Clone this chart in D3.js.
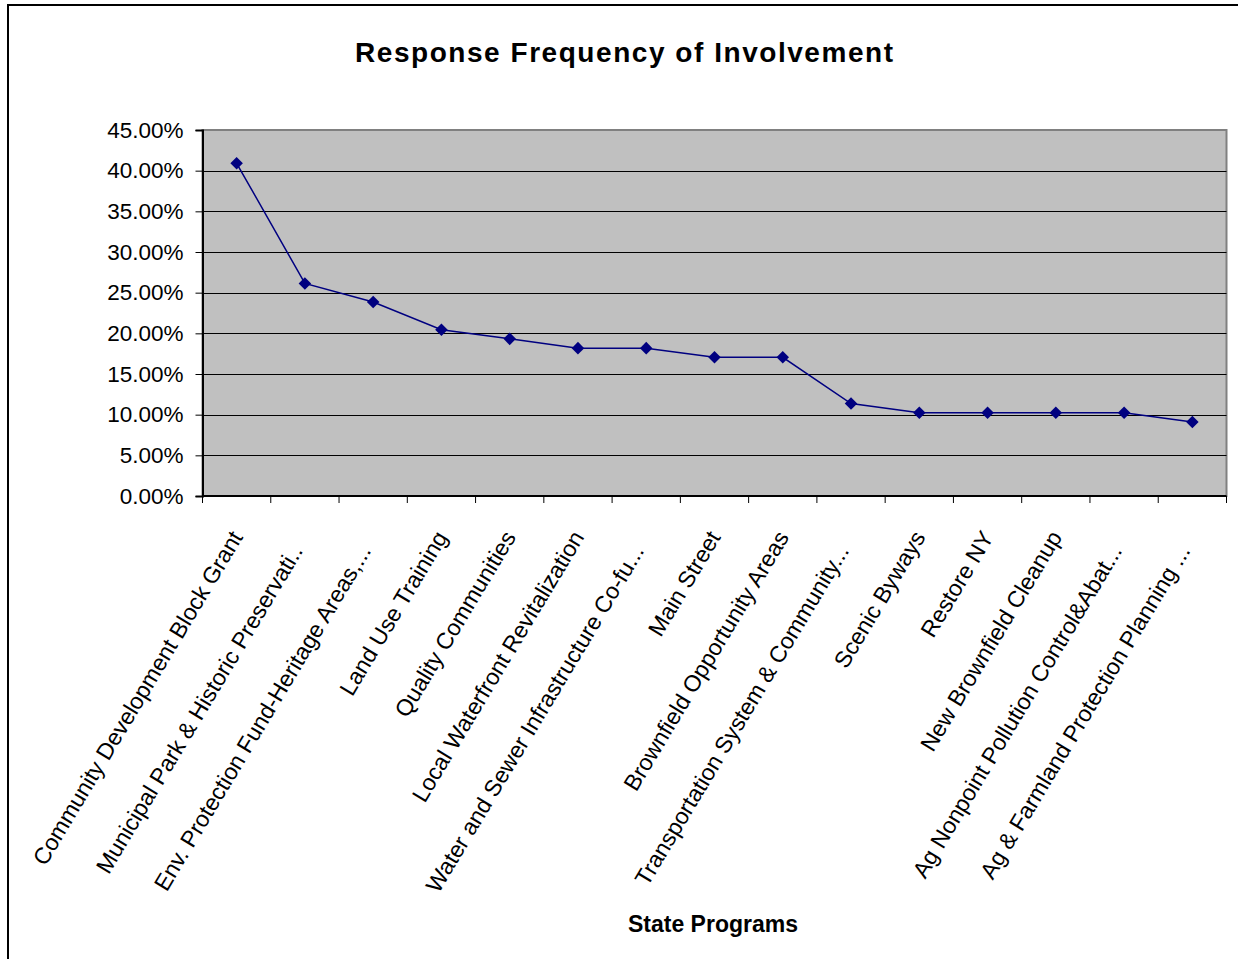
<!DOCTYPE html>
<html>
<head>
<meta charset="utf-8">
<script src="https://cdn.jsdelivr.net/npm/d3@7"></script>
<style>
  body { margin: 0; background: #fff; }
  svg { display: block; font-family: "Liberation Sans", Arial, sans-serif; }
  .y.axis text { font-size: 22.5px; fill: #000; }
  .x.axis text { font-size: 23px; fill: #000; }
  .axis path, .axis line { stroke: #000; }
</style>
</head>
<body>
<div id="chart"></div>
<script>
// data //
var programs = [
  "Community Development Block Grant",
  "Municipal Park & Historic Preservati..",
  "Env. Protection Fund-Heritage Areas,...",
  "Land Use Training",
  "Quality Communities",
  "Local Waterfront Revitalization",
  "Water and Sewer Infrastructure Co-fu...",
  "Main Street",
  "Brownfield Opportunity Areas",
  "Transportation System & Community...",
  "Scenic Byways",
  "Restore NY",
  "New Brownfield Cleanup",
  "Ag Nonpoint Pollution Control&Abat...",
  "Ag & Farmland Protection Planning ..."
];
var frequency = [0.4091, 0.2614, 0.2386, 0.2045, 0.1932, 0.1818, 0.1818, 0.1705, 0.1705, 0.1136, 0.1023, 0.1023, 0.1023, 0.1023, 0.0909];
var yTicks = [0, 0.05, 0.10, 0.15, 0.20, 0.25, 0.30, 0.35, 0.40, 0.45];

// SVG setup //
var width = 1238, height = 959;
var plot = {left: 202.5, right: 1226.5, top: 130, bottom: 496};
var labelAngle = -59;

var svg = d3.select("#chart").append("svg")
  .attr("width", width)
  .attr("height", height);

// chart frame
svg.append("rect")
  .attr("x", 8).attr("y", 5)
  .attr("width", width + 10).attr("height", height + 10)
  .attr("fill", "#fff")
  .attr("stroke", "#000")
  .attr("stroke-width", 2);

svg.append("text")
  .attr("x", 624).attr("y", 62)
  .attr("text-anchor", "middle")
  .attr("font-size", 28)
  .attr("font-weight", "bold")
  .attr("textLength", 538)
  .attr("lengthAdjust", "spacing")
  .text("Response Frequency of Involvement");

var x = d3.scaleBand()
  .domain(programs)
  .range([plot.left, plot.right]);

var y = d3.scaleLinear()
  .domain([0, 0.45])
  .range([plot.bottom, plot.top]);

// plot area
svg.append("rect")
  .attr("x", plot.left).attr("y", plot.top)
  .attr("width", plot.right - plot.left)
  .attr("height", plot.bottom - plot.top)
  .attr("fill", "#c0c0c0")
  .attr("stroke", "#808080")
  .attr("stroke-width", 2);

// gridlines
svg.append("g")
  .selectAll("line")
  .data(yTicks.slice(1, -1))
  .enter().append("line")
  .attr("x1", plot.left).attr("x2", plot.right)
  .attr("y1", function(d) { return Math.round(y(d)) + 0.5; })
  .attr("y2", function(d) { return Math.round(y(d)) + 0.5; })
  .attr("stroke", "#000")
  .attr("stroke-width", 1);

// y axis
var yAxis = svg.append("g")
  .attr("class", "y axis")
  .attr("transform", "translate(" + plot.left + ",0)")
  .call(d3.axisLeft(y).tickValues(yTicks).tickFormat(d3.format(".2%")).tickSize(7).tickPadding(12));
yAxis.select(".domain").attr("stroke-width", 2);

// x axis, ticks on category boundaries
var xAxis = svg.append("g")
  .attr("class", "x axis")
  .attr("transform", "translate(0," + plot.bottom + ")");

xAxis.append("line")
  .attr("x1", plot.left).attr("x2", plot.right)
  .attr("stroke", "#000")
  .attr("stroke-width", 2);

xAxis.selectAll(".tick-mark")
  .data(d3.range(programs.length + 1))
  .enter().append("line")
  .attr("class", "tick-mark")
  .attr("x1", function(i) { return plot.left + i * x.bandwidth(); })
  .attr("x2", function(i) { return plot.left + i * x.bandwidth(); })
  .attr("y1", 0).attr("y2", 7)
  .attr("stroke", "#000");

// truncated labels sit a bit further back along their slope
xAxis.selectAll(".label")
  .data(programs)
  .enter().append("text")
  .attr("class", "label")
  .attr("text-anchor", "end")
  .attr("dy", "0.35em")
  .attr("transform", function(d) {
    var back = /\.\.$/.test(d) ? 16 : 0;
    var a = labelAngle * Math.PI / 180;
    var lx = x(d) + x.bandwidth() / 2 - back * Math.cos(a);
    var ly = 37 - back * Math.sin(a);
    return "translate(" + lx + "," + ly + ") rotate(" + labelAngle + ")";
  })
  .text(function(d) { return d; });

svg.append("text")
  .attr("x", 713).attr("y", 932)
  .attr("text-anchor", "middle")
  .attr("font-size", 23)
  .attr("font-weight", "bold")
  .text("State Programs");

// series
var line = d3.line()
  .x(function(d, i) { return x(programs[i]) + x.bandwidth() / 2; })
  .y(function(d) { return y(d); });

svg.append("path")
  .datum(frequency)
  .attr("d", line)
  .attr("fill", "none")
  .attr("stroke", "#000080")
  .attr("stroke-width", 1.5);

svg.append("g")
  .selectAll("path")
  .data(frequency)
  .enter().append("path")
  .attr("d", d3.symbol().type(d3.symbolDiamond2).size(100))
  .attr("transform", function(d, i) {
    return "translate(" + (x(programs[i]) + x.bandwidth() / 2) + "," + y(d) + ")";
  })
  .attr("fill", "#000080");
</script>
</body>
</html>
